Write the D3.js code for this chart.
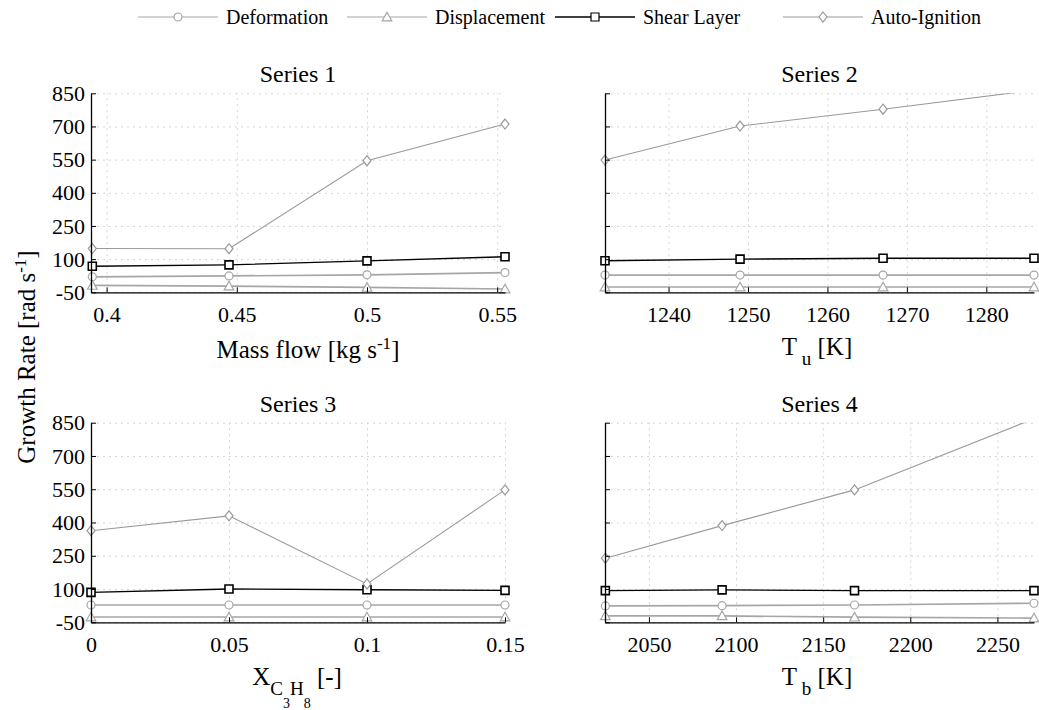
<!DOCTYPE html>
<html>
<head>
<meta charset="utf-8">
<script src="https://cdn.jsdelivr.net/npm/d3@7"></script>
<style>
  body { margin: 0; background: #fff; }
</style>
</head>
<body>
<svg id="fig" width="1039" height="710" font-family="Liberation Serif"></svg>
<script>
(function () {
  "use strict";

  // ---- data ----
  const seriesNames = ["Deformation", "Displacement", "Shear Layer", "Auto-Ignition"]
  const growthTicks = [-50, 100, 250, 400, 550, 700, 850]

  const massFlow = [0.3945, 0.447, 0.5, 0.553]
  const massFlowTicks = [0.4, 0.45, 0.5, 0.55]
  const massFlowDeformation = [20, 24, 29, 39]
  const massFlowDisplacement = [-19, -22, -28, -35]
  const massFlowShear = [68, 74, 92, 111]
  const massFlowAutoIgnition = [148, 147, 545, 711]

  const tempU = [1232, 1249, 1267, 1286]
  const tempUTicks = [1240, 1250, 1260, 1270, 1280]
  const tempUDeformation = [28, 28, 28, 28]
  const tempUDisplacement = [-26, -26, -26, -26]
  const tempUShear = [93, 100, 104, 104]
  const tempUAutoIgnition = [548, 702, 778, 864]

  const propane = [0, 0.05, 0.1, 0.15]
  const propaneTicks = [0, 0.05, 0.1, 0.15]
  const propaneDeformation = [28, 28, 28, 28]
  const propaneDisplacement = [-26, -26, -26, -26]
  const propaneShear = [85, 100, 97, 94]
  const propaneAutoIgnition = [363, 430, 123, 547]

  const tempB = [2025, 2092, 2168, 2271]
  const tempBTicks = [2050, 2100, 2150, 2200, 2250]
  const tempBDeformation = [24, 25, 28, 36]
  const tempBDisplacement = [-21, -21, -27, -31]
  const tempBShear = [93, 96, 93, 93]
  const tempBAutoIgnition = [239, 386, 547, 868]

  // ---- styling ----
  const serif = "Liberation Serif"
  const styles = [
    { color: "#a6a6a6", width: 1.7, marker: "circle" },
    { color: "#a6a6a6", width: 1.7, marker: "triangle" },
    { color: "#000000", width: 1.4, marker: "square" },
    { color: "#9a9a9a", width: 1.1, marker: "diamond" }
  ]

  const nb = "\u00a0"
  const panels = [
    { title: "Series 1", x: massFlow, xTicks: massFlowTicks,
      ys: [massFlowDeformation, massFlowDisplacement, massFlowShear, massFlowAutoIgnition],
      left: 91, right: 505, top: 93.3, bottom: 292.3, yLabels: true,
      label: [["Mass flow [kg s", 25, 0], ["-1", 17, -9], ["]", 25, 9]], labelX: 308, labelY: 358 },
    { title: "Series 2", x: tempU, xTicks: tempUTicks,
      ys: [tempUDeformation, tempUDisplacement, tempUShear, tempUAutoIgnition],
      left: 605, right: 1034, top: 93.3, bottom: 292.3, yLabels: false,
      label: [["T", 25, 0], [nb + "u", 19, 10], [nb + "[K]", 25, -10]], labelX: 817, labelY: 355 },
    { title: "Series 3", x: propane, xTicks: propaneTicks,
      ys: [propaneDeformation, propaneDisplacement, propaneShear, propaneAutoIgnition],
      left: 91, right: 505, top: 422.7, bottom: 622.3, yLabels: true,
      label: [["X", 25, 0], ["C", 19, 10], ["3", 14, 13], ["H", 19, -13], ["8", 14, 13], [nb + "[-]", 25, -23]],
      labelX: 297, labelY: 685 },
    { title: "Series 4", x: tempB, xTicks: tempBTicks,
      ys: [tempBDeformation, tempBDisplacement, tempBShear, tempBAutoIgnition],
      left: 605, right: 1034, top: 422.7, bottom: 622.3, yLabels: false,
      label: [["T", 25, 0], [nb + "b", 19, 10], [nb + "[K]", 25, -10]], labelX: 817, labelY: 685 }
  ]

  const xDomains = [
    [0.394, 0.553], [1232, 1286], [0, 0.15], [2024.8, 2271]
  ]

  let svg = d3.select("#fig")

  function markerPath(kind, cx, cy) {
    let p = d3.path()
    if (kind === "circle") {
      p.moveTo(cx + 4, cy)
      p.arc(cx, cy, 4, 0, 2 * Math.PI)
    } else if (kind === "triangle") {
      p.moveTo(cx, cy - 4.8)
      p.lineTo(cx + 4.8, cy + 3.8)
      p.lineTo(cx - 4.8, cy + 3.8)
      p.closePath()
    } else if (kind === "square") {
      p.rect(cx - 4, cy - 4, 8, 8)
    } else {
      p.moveTo(cx, cy - 5)
      p.lineTo(cx + 4, cy)
      p.lineTo(cx, cy + 5)
      p.lineTo(cx - 4, cy)
      p.closePath()
    }
    return p.toString()
  }

  function addLabel(g, parts, x, y, anchor) {
    let t = g.append("text")
      .attr("x", x).attr("y", y)
      .attr("text-anchor", anchor || "middle")
      .attr("font-family", serif)
      .attr("fill", "#000")
    for (let part of parts) {
      t.append("tspan")
        .attr("font-size", part[1])
        .attr("dy", part[2])
        .text(part[0])
    }
    return t
  }

  panels.forEach(function (pn, i) {
    let x = d3.scaleLinear().domain(xDomains[i]).range([pn.left, pn.right])
    let y = d3.scaleLinear().domain([-50, 850]).range([pn.bottom, pn.top])
    let g = svg.append("g")

    // dotted grid
    g.append("g")
      .attr("transform", "translate(0," + pn.bottom + ")")
      .call(d3.axisBottom(x).tickValues(pn.xTicks).tickSize(-(pn.bottom - pn.top)).tickFormat(""))
      .call(s => s.select(".domain").remove())
      .call(s => s.selectAll("line").attr("stroke", "#d4d4d4").attr("stroke-dasharray", "2,4"))
    g.append("g")
      .attr("transform", "translate(" + pn.left + ",0)")
      .call(d3.axisLeft(y).tickValues(growthTicks).tickSize(-(pn.right - pn.left)).tickFormat(""))
      .call(s => s.select(".domain").remove())
      .call(s => s.selectAll("line").attr("stroke", "#d4d4d4").attr("stroke-dasharray", "2,4"))

    // series
    let clipId = "clip" + i
    svg.append("clipPath").attr("id", clipId)
      .append("rect")
      .attr("x", pn.left - 6).attr("y", pn.top)
      .attr("width", pn.right - pn.left + 12).attr("height", pn.bottom - pn.top + 6)
    let plot = g.append("g").attr("clip-path", "url(#" + clipId + ")")

    pn.ys.forEach(function (vals, k) {
      let st = styles[k]
      let pts = vals.map((v, j) => [pn.x[j], v])
      plot.append("path")
        .attr("d", d3.line().x(d => x(d[0])).y(d => y(d[1]))(pts))
        .attr("fill", "none")
        .attr("stroke", st.color)
        .attr("stroke-width", st.width)
      plot.selectAll(null)
        .data(pts.filter(d => d[1] <= 850))
        .enter().append("path")
        .attr("d", d => markerPath(st.marker, x(d[0]), y(d[1])))
        .attr("fill", "#fff")
        .attr("stroke", st.color)
        .attr("stroke-width", k === 2 ? 1.6 : 1.2)
    })

    // axes with inward ticks
    let ax = g.append("g")
      .attr("transform", "translate(0," + pn.bottom + ")")
      .call(d3.axisBottom(x).tickValues(pn.xTicks).tickSize(-5).tickSizeOuter(0).tickPadding(14)
        .tickFormat(d => String(d)))
    let ay = g.append("g")
      .attr("transform", "translate(" + pn.left + ",0)")
      .call(d3.axisLeft(y).tickValues(growthTicks).tickSize(-5).tickSizeOuter(0).tickPadding(6)
        .tickFormat(pn.yLabels ? (d => String(d)) : ""))
    for (let a of [ax, ay]) {
      a.attr("font-family", serif).attr("font-size", 22)
      a.selectAll("text").attr("fill", "#000")
      a.select(".domain").attr("stroke", "#000").attr("stroke-width", 1.3)
      a.selectAll(".tick line").attr("stroke", "#000")
    }

    g.append("text")
      .attr("x", (pn.left + pn.right) / 2)
      .attr("y", pn.top - 11)
      .attr("text-anchor", "middle")
      .attr("font-family", serif)
      .attr("font-size", 24)
      .text(pn.title)

    addLabel(g, pn.label, pn.labelX, pn.labelY)
  })

  // shared y label
  let yl = addLabel(svg.append("g"),
    [["Growth Rate [rad s", 25, 0], ["-1", 17, -9], ["]", 25, 9]], 0, 0)
  yl.attr("transform", "translate(35,357) rotate(-90)")

  // legend
  const legendX = [138, 347, 555, 783]
  let lg = svg.append("g").attr("transform", "translate(0,17)")
  seriesNames.forEach(function (name, k) {
    let st = styles[k]
    let x0 = legendX[k]
    lg.append("line")
      .attr("x1", x0).attr("x2", x0 + 80)
      .attr("stroke", st.color).attr("stroke-width", k === 2 ? 1.6 : 1.2)
    lg.append("path")
      .attr("d", markerPath(st.marker, x0 + 40, 0))
      .attr("fill", "#fff").attr("stroke", st.color).attr("stroke-width", 1.2)
    lg.append("text")
      .attr("x", x0 + 88).attr("y", 6.5)
      .attr("font-family", serif)
      .attr("font-size", 20)
      .text(name)
  })
})();
</script>
</body>
</html>
